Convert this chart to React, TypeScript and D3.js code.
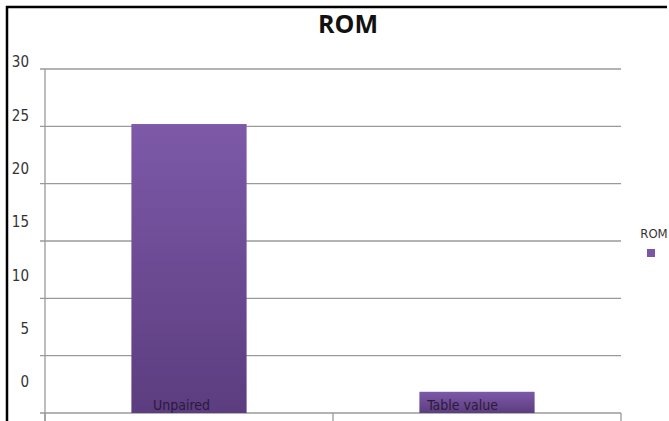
import React from "react";
import * as d3 from "d3";

const categories = ["Unpaired", "Table value"];
const romValues = [25.2, 1.85];
const yTicks = [0, 5, 10, 15, 20, 25, 30];
const seriesName = "ROM";

const W = 669;
const H = 421;
const plot = { left: 45, right: 621, top: 69, bottom: 413 };
const FONT = "'Liberation Sans Narrow', 'DejaVu Sans Condensed', 'Open Sans', sans-serif";

export default function App() {
  const x = d3
    .scaleBand<string>()
    .domain(categories)
    .range([plot.left, plot.right])
    .paddingInner(0.6)
    .paddingOuter(0.3);
  const y = d3.scaleLinear().domain([0, 30]).range([plot.bottom, plot.top]);
  // the tick labels in the original sit off their gridlines, drifting upwards
  const yLabel = d3.scaleLinear().domain([0, 30]).range([382, 62]);
  const step = x.step();
  const bounds = d3.range(categories.length + 1).map((i) => plot.left + i * step);

  return (
    <div style={{ position: "fixed", left: 0, top: 0, width: W, height: H, overflow: "hidden" }}>
      <svg width={W} height={H} style={{ display: "block", background: "#fff" }}>
        <defs>
          <linearGradient id="barGrad" x1="0" y1="0" x2="0" y2="1">
            <stop offset="0%" stopColor="#7d59a8" />
            <stop offset="100%" stopColor="#5c3d7f" />
          </linearGradient>
        </defs>
        <line x1={7} x2={7} y1={6} y2={H} stroke="#000" strokeWidth={2.5} />
        <line x1={6} x2={W - 2} y1={7} y2={7} stroke="#000" strokeWidth={2.5} />

        <text x={348} y={33} textAnchor="middle" fontFamily="'Open Sans', sans-serif" fontWeight="bold" fontSize={25} fill="#111">
          ROM
        </text>

        {yTicks.map((t) => (
          <g key={t}>
            <line x1={40} x2={plot.right} y1={y(t)} y2={y(t)} stroke="#9a9a9a" strokeWidth={1.3} />
            <text x={29} y={yLabel(t)} dy="0.35em" textAnchor="end" fontFamily={FONT} fontSize={15} fill="#333">
              {t}
            </text>
          </g>
        ))}
        <line x1={plot.left} x2={plot.left} y1={plot.top} y2={H} stroke="#9a9a9a" strokeWidth={1.3} />
        {bounds.map((b, i) => (
          <line key={i} x1={b} x2={b} y1={plot.bottom} y2={H} stroke="#9a9a9a" strokeWidth={1.3} />
        ))}

        {categories.map((c, i) => (
          <g key={c}>
            <rect
              x={x(c)}
              y={y(romValues[i])}
              width={x.bandwidth()}
              height={y(0) - y(romValues[i])}
              fill="url(#barGrad)"
            />
            <text
              x={(x(c) as number) + x.bandwidth() / 2 + 21}
              y={410}
              textAnchor="end"
              fontFamily={FONT}
              fontSize={14}
              fill="#2a1a3c"
            >
              {c}
            </text>
          </g>
        ))}

        <text x={654} y={238} textAnchor="middle" fontFamily={FONT} fontSize={13} fill="#333">
          {seriesName}
        </text>
        <rect x={647} y={249} width={8} height={8} fill="#7a56a5" />
      </svg>
    </div>
  );
}
